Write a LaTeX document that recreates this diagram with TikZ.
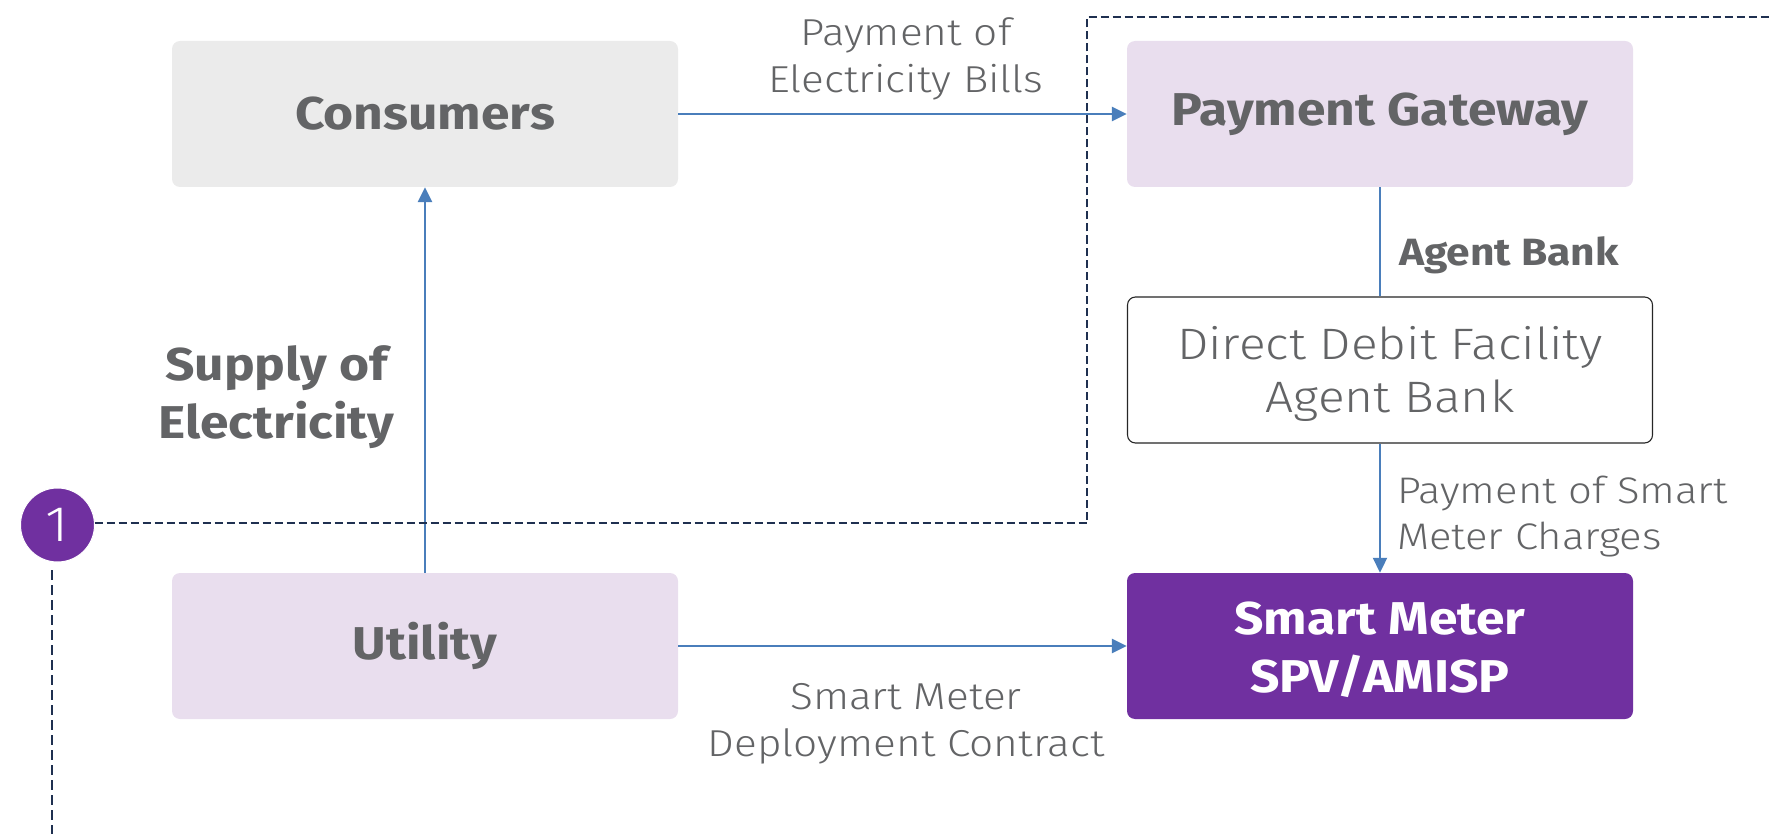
\documentclass[tikz,border=0pt]{standalone}
\usepackage{fontspec}
\setmainfont{Fira Sans}[FakeStretch=1.12]
\newfontfamily\lightfont{Fira Sans Light}[FakeStretch=1.13]
\usetikzlibrary{arrows.meta}
\definecolor{txt}{HTML}{636466}
\definecolor{lgray}{HTML}{EBEBEB}
\definecolor{lav}{HTML}{E9DEEE}
\definecolor{purp}{HTML}{7030A0}
\definecolor{flow}{HTML}{4A7EBB}
\definecolor{navy}{HTML}{1F3050}
\begin{document}
\begin{tikzpicture}[x=1pt,y=-1pt,
  box/.style={rounded corners=8pt, minimum width=506pt, minimum height=146pt, inner sep=0pt, align=center,
    font=\fontsize{46}{58}\selectfont\bfseries, text=txt},
  boxtext/.style={inner sep=0pt, align=center, font=\fontsize{46}{58}\selectfont\bfseries, text=txt},
  lbl/.style={align=center, text=txt, inner sep=0pt, font=\lightfont\fontsize{37.5}{47}\selectfont},
  blbl/.style={align=center, text=txt, inner sep=0pt, font=\fontsize{46}{58}\selectfont\bfseries},
  flowarrow/.style={draw=flow, line width=2.5pt, -{Triangle[length=15pt,width=14pt]}},
  dashline/.style={draw=navy, line width=2.5pt, dash pattern=on 8pt off 4pt}]
\useasboundingbox (0,0) rectangle (1770,834);
% boxes
\node[box, fill=lgray] (cons) at (425,114) {Consumers};
\node[box, fill=lav] (pg) at (1380,114) {Payment Gateway};
\node[box, fill=white, draw=black!85, line width=1.1pt, minimum width=525pt, minimum height=146pt] (dd) at (1390,370) {};
\node[boxtext, font=\lightfont\fontsize{44}{53}\selectfont, yshift=-4pt] (ddt) at (dd.center) {Direct Debit Facility\\Agent Bank};
\node[box, fill=purp] (sm) at (1380,646) {};
\node[boxtext, text=white, yshift=-4pt] (smt) at (sm.center) {Smart Meter\\SPV/AMISP};
\node[box, fill=lav] (ut) at (425,646) {Utility};
% circle
\node[circle, fill=purp, draw=white, line width=1pt, minimum size=74pt, inner sep=0pt, text=white,
  font=\lightfont\fontsize{50}{60}\selectfont] (c1) at (57.5,525) {1};
% connectors
\draw[flowarrow] (cons.east) -- (pg.west);
\draw[flowarrow] (ut.north) -- (cons.south);
\draw[draw=flow, line width=1.6pt] (pg.south) -- (pg.south |- dd.north);
\draw[flowarrow, line width=2pt] (dd.south -| sm.north) -- (sm.north);
\draw[flowarrow] (ut.east) -- (sm.west);
% dashed lines
\coordinate (d0) at (94.5,523);
\coordinate (d1) at (1087,523);
\coordinate (d2) at (1087,17);
\coordinate (d3) at (1770,17);
\draw[dashline] (d0) -- (d1) -- (d2) -- (d3);
\coordinate (v1) at (52,570);
\coordinate (v2) at (52,834);
\draw[dashline, line width=2pt, dash pattern=on 10pt off 5pt] (v1) -- (v2);
% labels
\node[lbl] (l1) at (906,59) {Payment of\\Electricity Bills};
\node[blbl] (l2) at (276.5,397) {Supply of\\Electricity};
\node[lbl, anchor=west, font=\fontsize{38}{47}\selectfont\bfseries] (l3) at (1399,255) {Agent Bank};
\node[lbl, anchor=west, align=left, font=\lightfont\fontsize{37}{46}\selectfont] (l4) at (1397,517) {Payment of Smart\\Meter Charges};
\node[lbl] (l5) at (906,724) {Smart Meter\\Deployment Contract};
\end{tikzpicture}
\end{document}
